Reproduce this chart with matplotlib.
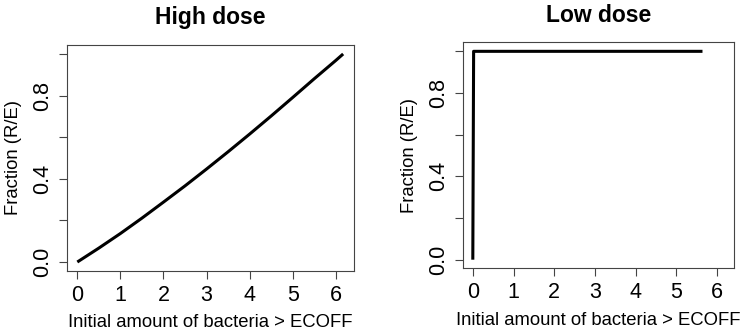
import matplotlib
matplotlib.use('Agg')
import matplotlib.pyplot as plt

plt.rcParams['font.family'] = ['Liberation Sans', 'DejaVu Sans']

# values
high_x = [0.0, 0.5, 1.0, 1.5, 2.0, 2.5, 3.0, 3.5, 4.0, 4.5, 5.0, 5.5, 6.0, 6.17]
high_y = [0.0, 0.067, 0.137, 0.211, 0.288, 0.366, 0.447, 0.530, 0.615, 0.702, 0.791, 0.881, 0.969, 1.0]

low_x = [0.0, 0.02, 5.64]
low_y = [0.0, 1.0, 1.0]

x_ticks = [0, 1, 2, 3, 4, 5, 6]
y_ticks = [0.0, 0.2, 0.4, 0.6, 0.8, 1.0]
y_tick_labels = ['0.0', '', '0.4', '', '0.8', '']

titles = ['High dose', 'Low dose']
x_label = 'Initial amount of bacteria > ECOFF'
y_label = 'Fraction (R/E)'

fig = plt.figure(figsize=(7.5, 3.31), dpi=100)
ax1 = fig.add_axes([0.0889, 0.182, 0.383, 0.682])
ax2 = fig.add_axes([0.617, 0.189, 0.362, 0.683])

frame = '#444444'

for ax, xs, ys, title in [(ax1, high_x, high_y, titles[0]), (ax2, low_x, low_y, titles[1])]:
    ax.plot(xs, ys, color='black', lw=2.2, solid_joinstyle='round', solid_capstyle='butt')
    ax.set_xlim(-0.247, 6.42)
    ax.set_ylim(-0.042, 1.043)
    ax.set_xticks(x_ticks)
    ax.set_xticklabels([str(t) for t in x_ticks], fontsize=15.5)
    ax.set_yticks(y_ticks)
    ax.set_yticklabels(y_tick_labels, fontsize=15.5, rotation=90, va='center')
    ax.tick_params(axis='both', direction='out', length=6, width=0.8, color=frame)
    ax.tick_params(axis='x', pad=4)
    ax.tick_params(axis='y', pad=4)
    for s in ax.spines.values():
        s.set_color(frame)
        s.set_linewidth(0.8)
    ax.set_xlabel(x_label, fontsize=13.3, labelpad=6)
    ax.set_ylabel(y_label, fontsize=13.3, labelpad=7)
    ax.set_title(title, fontsize=16.5, fontweight='bold', pad=15)

fig.savefig('out.png', dpi=100)
